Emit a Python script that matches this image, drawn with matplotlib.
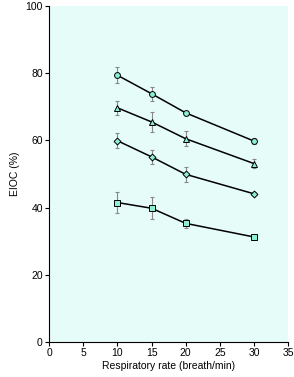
import matplotlib
matplotlib.use("Agg")
import matplotlib.pyplot as plt

plt.rcParams['font.family'] = ['Liberation Sans', 'DejaVu Sans']

rates = [10, 15, 20, 30]
circle_vals = [79.4, 73.9, 68.2, 59.8]
circle_err = [2.4, 2.1, 0.5, 1.0]
triangle_vals = [69.7, 65.5, 60.5, 53.1]
triangle_err = [2.1, 3.1, 2.3, 1.3]
diamond_vals = [59.9, 55.1, 49.9, 44.1]
diamond_err = [2.2, 2.0, 2.2, 0.5]
square_vals = [41.5, 39.8, 35.3, 31.25]
square_err = [3.1, 3.3, 1.4, 0.4]

xticks = [0, 5, 10, 15, 20, 25, 30, 35]
yticks = [0, 20, 40, 60, 80, 100]

fig = plt.figure(figsize=(2.94, 3.77), dpi=100)
ax = fig.add_axes([0.167, 0.093, 0.813, 0.891])
ax.set_facecolor('#e6fcf8')

series = [(circle_vals, circle_err, 'o'), (triangle_vals, triangle_err, '^'),
          (diamond_vals, diamond_err, 'D'), (square_vals, square_err, 's')]
for vals, err, m in series:
    ax.errorbar(rates, vals, yerr=err, fmt='none', ecolor='#888888', elinewidth=0.8,
                capsize=1.5, capthick=0.8, zorder=2)
    ax.plot(rates, vals, color='black', lw=1.1, marker=m,
            markersize=4.2 if m != 'D' else 3.5, markerfacecolor='#8ceed6',
            markeredgecolor='black', markeredgewidth=0.7, zorder=3)

ax.set_xlim(0, 35)
ax.set_ylim(0, 100)
ax.set_xticks(xticks)
ax.set_yticks(yticks)
ax.spines['top'].set_visible(False)
ax.spines['right'].set_visible(False)
ax.tick_params(direction='out', length=3, width=0.8, labelsize=7.5, pad=1.5)
ax.set_xlabel('Respiratory rate (breath/min)', fontsize=7.5, labelpad=2)
ax.set_ylabel('EIOC (%)', fontsize=7.5, labelpad=4)

fig.savefig('out.png', dpi=100)
